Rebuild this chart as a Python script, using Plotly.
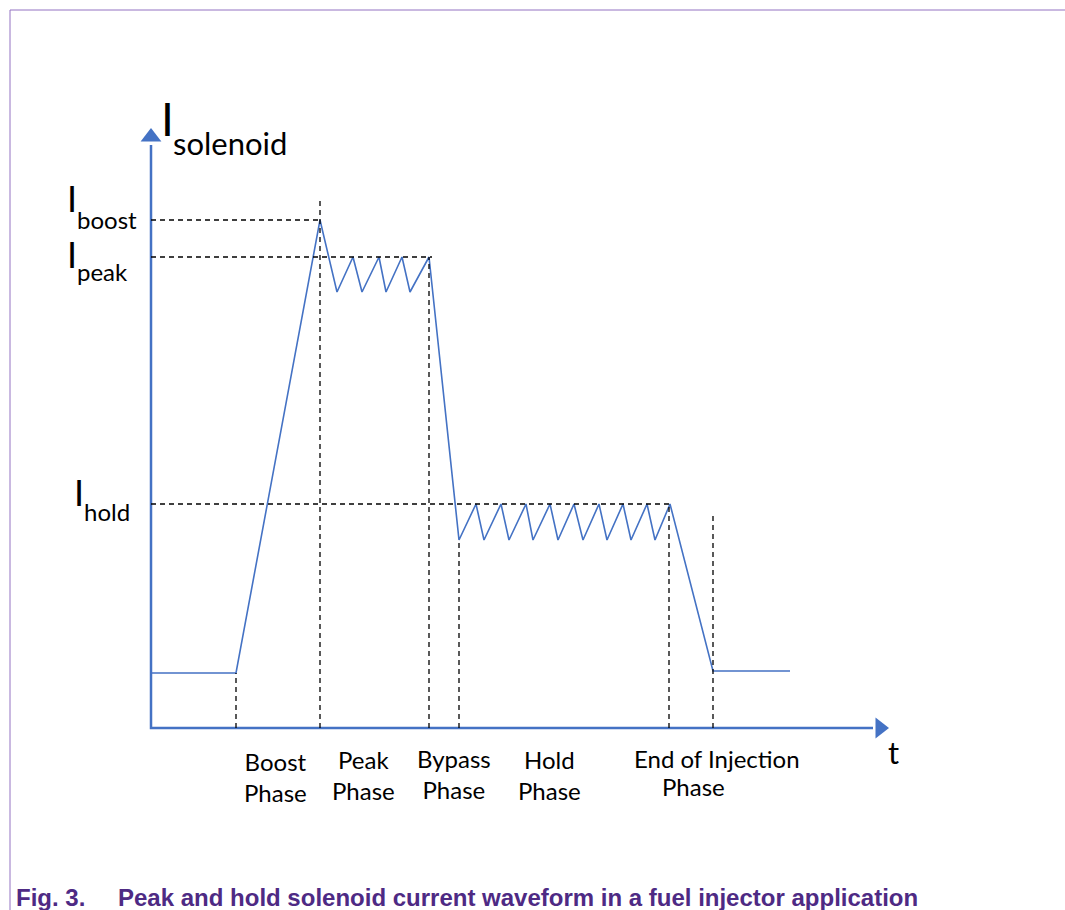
import plotly.graph_objects as go

# waveform of the solenoid current (t and I in drawing units, origin at the axes corner)
t_wave = [0, 85, 169, 186, 202, 211, 228, 235, 251, 259, 278,
          308, 325, 333, 350, 358, 375, 382, 399, 407, 423, 432, 448,
          456, 472, 480, 496, 504, 519, 562, 639]
i_wave = [55, 55, 508, 436, 471, 436, 471, 436, 471, 436, 471,
          188, 224, 188, 224, 188, 224, 188, 224, 188, 224, 188, 224,
          188, 224, 188, 224, 188, 224, 57, 57]

# current levels: label, level, end of the dashed guide
level_names = ["boost", "peak", "hold"]
level_values = [508, 471, 224]
level_ends = [169, 281, 520]

# phase boundaries: time, top of the dashed guide
phase_t = [85, 169, 278, 308, 518, 562]
phase_top = [55, 527, 471, 188, 224, 216]

BLUE = "#4472c4"
FONT = "Lato"
PURPLE = "#4e2a84"

fig = go.Figure()

# axes
fig.add_trace(go.Scatter(x=[0, 0, 722], y=[583, 0, 0], mode="lines",
                         line=dict(color=BLUE, width=2.5), hoverinfo="skip"))
fig.add_trace(go.Scatter(x=[0], y=[591], mode="markers", hoverinfo="skip",
                         marker=dict(symbol="triangle-up", size=18, color=BLUE)))
fig.add_trace(go.Scatter(x=[729], y=[0], mode="markers", hoverinfo="skip",
                         marker=dict(symbol="triangle-right", size=18, color=BLUE)))

shapes = []
for lv, end in zip(level_values, level_ends):
    shapes.append(dict(type="line", x0=0, x1=end, y0=lv, y1=lv,
                       line=dict(color="black", width=1.3, dash="5px,4px")))
for t, top in zip(phase_t, phase_top):
    shapes.append(dict(type="line", x0=t, x1=t, y0=0, y1=top,
                       line=dict(color="black", width=1.3, dash="5px,4px")))
# frame of the figure
shapes.append(dict(type="line", x0=-141, x1=914, y0=718, y1=718,
                   line=dict(color="#9373c2", width=1)))
shapes.append(dict(type="line", x0=-141, x1=-141, y0=718, y1=-182,
                   line=dict(color="#9373c2", width=1)))

fig.add_trace(go.Scatter(x=t_wave, y=i_wave, mode="lines",
                         line=dict(color=BLUE, width=1.6), hoverinfo="skip"))

ann = []


def txt(x, y, s, size, xanchor="center", color="black", family=FONT):
    ann.append(dict(x=x, y=y, text=s, showarrow=False, xanchor=xanchor,
                    yanchor="middle", borderpad=0,
                    font=dict(family=family, size=size, color=color)))


# y axis title
txt(9, 610, "I", 46, "left")
txt(21, 585, "solenoid", 31, "left")
# level labels
lab_pos = {"boost": (-85, 530, -75, 509), "peak": (-85, 474, -75, 457),
           "hold": (-78, 236, -68, 217)}
for name in level_names:
    ix, iy, sx, sy = lab_pos[name]
    txt(ix, iy, "I", 36, "left")
    txt(sx, sy, name, 24, "left")

# phase labels
phase_labels = ["Boost<br>Phase", "Peak<br>Phase", "Bypass<br>Phase", "Hold<br>Phase"]
phase_label_x = [124, 212, 303, 398]
phase_label_y = [-49, -47, -46, -47]
for s, x, y in zip(phase_labels, phase_label_x, phase_label_y):
    txt(x, y, s, 24)
txt(566, -30, "End of Injection", 24)
txt(542, -58, "Phase", 24)
txt(742, -24, "t", 31)

# caption
txt(-136, -169, "<b>Fig. 3.</b>", 24, "left", PURPLE, "Liberation Sans")
txt(-34, -169, "<b>Peak and hold solenoid current waveform in a fuel injector application</b>",
    24, "left", PURPLE, "Liberation Sans")

fig.update_layout(
    width=1065, height=910,
    margin=dict(l=0, r=0, t=0, b=0),
    paper_bgcolor="white", plot_bgcolor="white",
    showlegend=False,
    xaxis=dict(range=[-151, 914], visible=False, fixedrange=True),
    yaxis=dict(range=[-182, 728], visible=False, fixedrange=True),
    shapes=shapes, annotations=ann,
)

fig.write_html("out.html", config={"displayModeBar": False},
               post_script="document.body.style.margin='0';")
